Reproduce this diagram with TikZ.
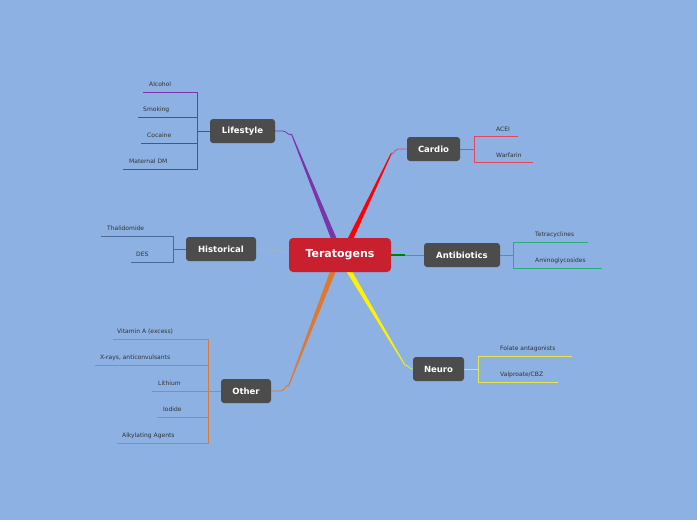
\documentclass[tikz,border=0pt]{standalone}
\usepackage{fontspec}
\setmainfont{DejaVu Sans}
\begin{document}
\begin{tikzpicture}[x=1pt,y=-1pt,
  topic/.style={fill=black!70,rounded corners=3pt,text=white,font=\fontsize{8.5}{10}\selectfont\bfseries,minimum height=24pt,inner sep=0pt},
  leaf/.style={font=\fontsize{6}{7}\selectfont,text=black!80,anchor=west,inner sep=0pt},
]
\definecolor{bg}{HTML}{8CB1E2}
\definecolor{cpurple}{HTML}{7B35A8}
\definecolor{cred}{HTML}{E8445A}
\definecolor{cgreen}{HTML}{2EAA7E}
\definecolor{cyel}{HTML}{E4E84A}
\definecolor{corange}{HTML}{E0782E}
\definecolor{cblue}{HTML}{4A6A9A}
\fill[bg] (0,0) rectangle (697,520);
\useasboundingbox (0,0) rectangle (697,520);
% main connectors
\fill[cpurple] (333,244) -- (339,244) -- (292,134) -- (291,134) -- cycle;
\draw[cpurple,line width=0.8pt] (291.5,134) to[out=-120,in=0] (283,131) -- (275,131);
\fill[red] (345,244) -- (351,244) -- (392,153) -- (391,153) -- cycle;
\draw[cred,line width=0.8pt] (391.5,153) to[out=-60,in=180] (398,149) -- (407,149);
\fill[yellow] (343,266) -- (349,266) -- (406,366) -- (405,366) -- cycle;
\draw[cyel,line width=0.8pt] (405.5,366) to[out=60,in=180] (412,369) -- (413,369);
\fill[corange] (332,266) -- (338,266) -- (289,386) -- (288,386) -- cycle;
\draw[corange,line width=0.8pt] (288.5,386) to[out=120,in=0] (281,391) -- (271,391);
\draw[green!50!black,line width=1.5pt] (391,255) -- (405,255);
\draw[cgreen,line width=0.8pt] (405,255) -- (424,255);
\draw[black!30,line width=0.6pt] (256,249) -- (289,252);
% nodes
\node[fill={rgb,255:red,200;green,32;blue,47},rounded corners=4pt,text=white,font=\fontsize{11}{13}\selectfont\bfseries,minimum width=102pt,minimum height=34pt,inner sep=0pt] (c) at (340,255) {Teratogens};
\node[topic,minimum width=65pt] (life) at (242.5,131) {Lifestyle};
\node[topic,minimum width=70pt] (hist) at (221,249) {Historical};
\node[topic,minimum width=50pt] (oth) at (246,391) {Other};
\node[topic,minimum width=53pt] (card) at (433.5,149) {Cardio};
\node[topic,minimum width=76pt] (anti) at (462,255) {Antibiotics};
\node[topic,minimum width=51pt] (neuro) at (438.5,369) {Neuro};
% Lifestyle leaves
\draw[cpurple,line width=0.6pt] (life.west) -- (197,131);
\draw[cpurple,line width=0.6pt] (143,92) -- (197,92) -- (197,169) -- (123,169);
\draw[cpurple,line width=0.6pt] (138,117) -- (197,117);
\draw[cpurple,line width=0.6pt] (141,143) -- (197,143);
\node[leaf] (l1) at (149,84.5) {Alcohol};
\node[leaf] (l2) at (143,109.5) {Smoking};
\node[leaf] (l3) at (147,135.5) {Cocaine};
\node[leaf] (l4) at (129,161.5) {Maternal DM};
% Historical
\draw[cblue,line width=0.6pt] (hist.west) -- (173,249);
\draw[cblue,line width=0.6pt] (101,236) -- (173,236) -- (173,262) -- (131,262);
\node[leaf] (h1) at (107,228.5) {Thalidomide};
\node[leaf] (h2) at (136,254.5) {DES};
% Other
\draw[corange,line width=0.6pt] (oth.west) -- (208,391);
\draw[corange,line width=0.6pt] (113,339) -- (208,339) -- (208,443) -- (117,443);
\draw[corange,line width=0.6pt] (95,365) -- (208,365);
\draw[corange,line width=0.6pt] (152,391) -- (208,391);
\draw[corange,line width=0.6pt] (157,417) -- (208,417);
\node[leaf] (o1) at (117,331.5) {Vitamin A (excess)};
\node[leaf] (o2) at (100,357.5) {X-rays, anticonvulsants};
\node[leaf] (o3) at (158,383.5) {Lithium};
\node[leaf] (o4) at (163,409.5) {Iodide};
\node[leaf] (o5) at (122,435.5) {Alkylating Agents};
% Cardio
\draw[cred,line width=0.6pt] (card.east) -- (474,149);
\draw[cred,line width=0.6pt] (518,136) -- (474,136) -- (474,162) -- (533,162);
\node[leaf] (c1) at (496,129) {ACEI};
\node[leaf] (c2) at (496,155) {Warfarin};
% Antibiotics
\draw[cgreen,line width=0.6pt] (anti.east) -- (513,255);
\draw[cgreen,line width=0.6pt] (588,242) -- (513,242) -- (513,268) -- (602,268);
\node[leaf] (a1) at (535,235) {Tetracyclines};
\node[leaf] (a2) at (535,261) {Aminoglycosides};
% Neuro
\draw[cyel,line width=0.8pt] (neuro.east) -- (478,369);
\draw[cyel,line width=0.8pt] (572,356) -- (478,356) -- (478,382) -- (558,382);
\node[leaf] (n1) at (500,349) {Folate antagonists};
\node[leaf] (n2) at (500,375) {Valproate/CBZ};
\end{tikzpicture}
\end{document}
